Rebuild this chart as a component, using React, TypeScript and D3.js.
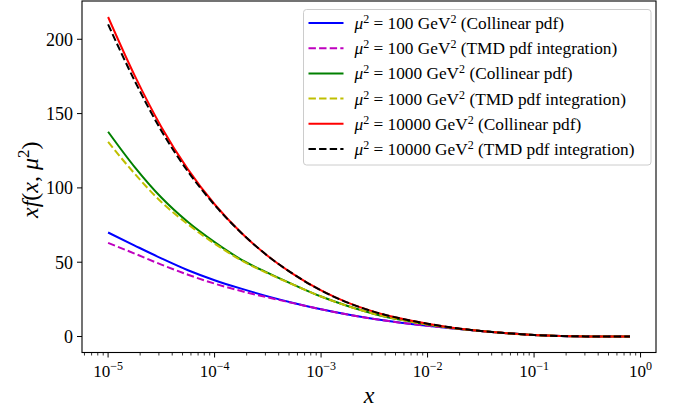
import * as React from 'react'
import * as d3 from 'd3'

// log10(x) grid the curves were read on
const logX = [-5, -4.75, -4.5, -4.25, -4, -3.75, -3.5, -3.25, -3, -2.75, -2.5, -2.25, -2, -1.75, -1.5, -1.25, -1, -0.75, -0.5, -0.1]

const col100 = [70, 61.2, 52.6, 44.6, 37.9, 32.2, 27, 22.4, 18.3, 14.8, 11.8, 9.3, 7.2, 5.4, 3.7, 2.2, 1.0, 0.35, 0.08, 0]
const tmd100 = [63, 55.8, 48.4, 41.6, 35.6, 30.6, 26.3, 22.3, 18.3, 14.8, 11.8, 9.3, 7.2, 5.4, 3.7, 2.2, 1.0, 0.35, 0.08, 0]
const col1000 = [137.8, 114, 93.5, 77, 63.5, 51.8, 42.8, 34.6, 26.9, 20.5, 15.2, 11.2, 8.1, 5.6, 3.7, 2.2, 1.0, 0.35, 0.08, 0]
const tmd1000 = [131, 109.5, 90.5, 75.5, 62.5, 51.3, 42.5, 34.5, 26.9, 20.5, 15.2, 11.2, 8.1, 5.6, 3.7, 2.2, 1.0, 0.35, 0.08, 0]
const col10000 = [215, 175.5, 141, 112.5, 89, 69.8, 54.2, 41.5, 31, 22.8, 16.6, 12.1, 8.6, 5.8, 3.7, 2.2, 1.0, 0.35, 0.08, 0]
const tmd10000 = [210, 172, 138.5, 111, 88.5, 69.8, 54.2, 41.5, 31, 22.8, 16.6, 12.1, 8.6, 5.8, 3.7, 2.2, 1.0, 0.35, 0.08, 0]

const muLabels = ['100', '100', '1000', '1000', '10000', '10000']
const kindLabels = ['Collinear pdf', 'TMD pdf integration', 'Collinear pdf', 'TMD pdf integration', 'Collinear pdf', 'TMD pdf integration']
const seriesValues = [col100, tmd100, col1000, tmd1000, col10000, tmd10000]
const seriesColors = ['#0000ff', '#bf00bf', '#008000', '#bfbf00', '#ff0000', '#000000']
const seriesDashed = [false, true, false, true, false, true]

const yTicks = [0, 50, 100, 150, 200]
const xDecades = [-5, -4, -3, -2, -1, 0]

const FONT = '"Liberation Serif", "DejaVu Serif", serif'

export default function App() {
    const W = 680
    const H = 411
    const left = 82, right = 656, top = 1, bottom = 352.5

    const xScale = d3.scaleLog().domain([Math.pow(10, -5.245), Math.pow(10, 0.145)]).range([left, right])
    const yScale = d3.scaleLinear().domain([-10.75, 225.75]).range([bottom, top])

    const line = d3.line<[number, number]>()
        .x(d => xScale(d[0]))
        .y(d => yScale(d[1]))
        .curve(d3.curveMonotoneX)

    const minorTicks: number[] = []
    for (let d = -6; d <= 0; d++) {
        for (let m = 2; m <= 9; m++) {
            const v = m * Math.pow(10, d)
            const [lo, hi] = xScale.domain()
            if (v > lo && v < hi) minorTicks.push(v)
        }
    }

    const legX = 303.5, legY = 9.5, legW = 347.5, legH = 155.5
    const rowH = 25.2

    return <svg width={W} height={H} viewBox={`0 0 ${W} ${H}`}
        style={{ position: 'absolute', left: 0, top: 0, background: '#fff' }} fontFamily={FONT}>
        <rect x={0} y={0} width={W} height={H} fill="#fff" />

        <defs>
            <clipPath id="plotArea">
                <rect x={left} y={top} width={right - left} height={bottom - top} />
            </clipPath>
        </defs>

        <g clipPath="url(#plotArea)">
            {seriesValues.map((vals, i) =>
                <path key={i}
                    d={line(vals.map((v, j) => [Math.pow(10, logX[j]), v] as [number, number])) as string}
                    fill="none"
                    stroke={seriesColors[i]}
                    strokeWidth={2}
                    strokeDasharray={seriesDashed[i] ? '7.4 3.2' : undefined}
                />
            )}
        </g>

        <rect x={left} y={top} width={right - left} height={bottom - top} fill="none" stroke="#000" strokeWidth={1.1} />

        {/* y axis */}
        {yTicks.map(t =>
            <g key={t} transform={`translate(${left} ${yScale(t)})`}>
                <line x1={0} x2={-5} stroke="#000" strokeWidth={1} />
                <text x={-9} dy="0.35em" textAnchor="end" fontSize={18}>{t}</text>
            </g>
        )}

        {/* x axis */}
        {minorTicks.map((t, i) =>
            <line key={i} x1={xScale(t)} x2={xScale(t)} y1={bottom} y2={bottom + 3} stroke="#000" strokeWidth={0.8} />
        )}
        {xDecades.map(d =>
            <g key={d} transform={`translate(${xScale(Math.pow(10, d))} ${bottom})`}>
                <line y1={0} y2={5} stroke="#000" strokeWidth={1} />
                <text y={24} textAnchor="middle" fontSize={17}>
                    10<tspan dy={-7} fontSize={12}>{d === 0 ? '0' : `\u2212${-d}`}</tspan>
                </text>
            </g>
        )}

        {/* axis labels */}
        <text x={(left + right) / 2} y={403} textAnchor="middle" fontSize={24} fontStyle="italic">x</text>
        <text transform={`translate(38 ${(top + bottom) / 2 + 3}) rotate(-90)`} textAnchor="middle" fontSize={24}>
            <tspan fontStyle="italic">xf</tspan>(<tspan fontStyle="italic">x</tspan>, <tspan fontStyle="italic">μ</tspan><tspan dy={-9} fontSize={17}>2</tspan><tspan dy={9}>)</tspan>
        </text>

        {/* legend */}
        <rect x={legX} y={legY} width={legW} height={legH} rx={3} fill="#fff" fillOpacity={0.8} stroke="#cccccc" strokeWidth={1} />
        {muLabels.map((mu, i) => {
            const cy = legY + 13.5 + i * rowH
            return <g key={i} transform={`translate(${legX} ${cy})`}>
                <line x1={5} x2={40} stroke={seriesColors[i]} strokeWidth={2} strokeDasharray={seriesDashed[i] ? '7.4 3.2' : undefined} />
                <text x={51} dy="0.35em" fontSize={17.3}>
                    <tspan fontStyle="italic">μ</tspan><tspan dy={-6} fontSize={12}>2</tspan><tspan dy={6}> = {mu} GeV</tspan><tspan dy={-6} fontSize={12}>2</tspan><tspan dy={6}> ({kindLabels[i]})</tspan>
                </text>
            </g>
        })}
    </svg>
}
